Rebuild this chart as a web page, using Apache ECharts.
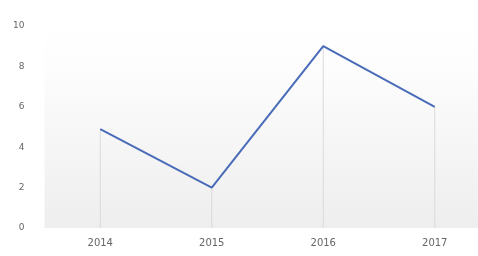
<!DOCTYPE html>
<html><head><meta charset="utf-8">
<script src="https://cdn.jsdelivr.net/npm/echarts@6/dist/echarts.min.js"></script>
<style>html,body{margin:0;padding:0;background:#fff}#c{width:478px;height:256px}</style>
</head><body><div id="c"></div>
<script>
const categories = ['2014', '2015', '2016', '2017'];
const values = [4.9, 2, 9, 6];
const yTicks = [0, 2, 4, 6, 8, 10];

const chart = echarts.init(document.getElementById('c'), null, {renderer: 'canvas'});
chart.setOption({
  animation: false,
  backgroundColor: '#fff',
  grid: {
    left: 44.5, width: 446, top: 26, bottom: 28,
    outerBoundsMode: 'none', containLabel: false,
    show: true, borderWidth: 0,
    backgroundColor: new echarts.graphic.LinearGradient(0, 0, 0, 1, [
      {offset: 0, color: '#ffffff'},
      {offset: 0.2, color: '#fdfdfd'},
      {offset: 1, color: '#eeeeee'}
    ])
  },
  xAxis: {
    type: 'category', data: categories, boundaryGap: true,
    axisLine: {show: false}, axisTick: {show: false},
    axisLabel: {color: '#666', fontSize: 10, fontFamily: 'DejaVu Sans', margin: 10}
  },
  yAxis: {
    type: 'value', min: yTicks[0], max: yTicks[yTicks.length - 1], interval: 2,
    axisLine: {show: false}, axisTick: {show: false}, splitLine: {show: false},
    axisLabel: {color: '#666', fontSize: 9, fontFamily: 'DejaVu Sans', margin: 20}
  },
  series: [
    {
      type: 'bar', data: values, barWidth: 1, silent: true,
      itemStyle: {color: '#dadada'}
    },
    {
      type: 'line', data: values, symbol: 'none',
      lineStyle: {color: '#4a6cb8', width: 2}
    }
  ]
});
</script></body></html>
